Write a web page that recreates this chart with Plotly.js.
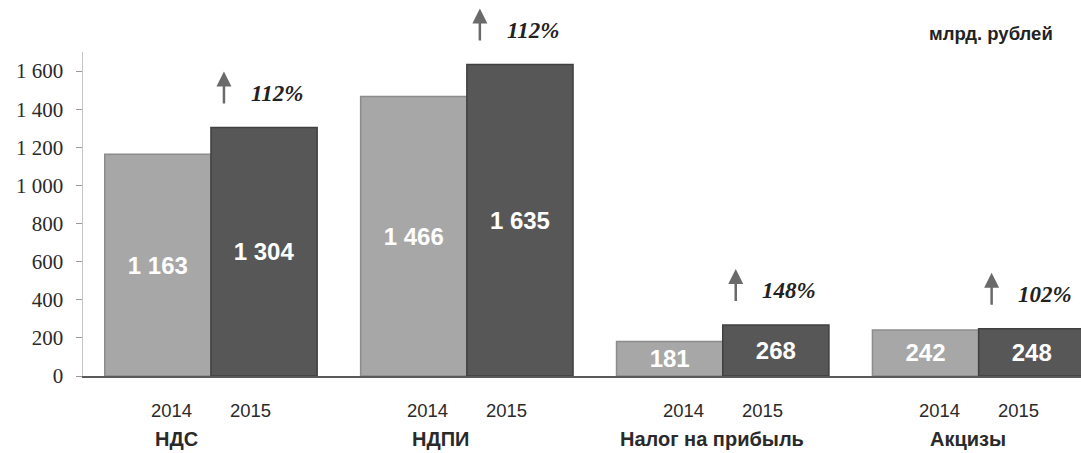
<!DOCTYPE html>
<html>
<head>
<meta charset="utf-8">
<script src="https://cdn.plot.ly/plotly-3.0.1.min.js"></script>
<style>html,body{margin:0;padding:0;background:#fff;}#chart{width:1081px;height:453px;}</style>
</head>
<body>
<div id="chart"></div>
<script>
// ---- data ----
var categories = ['НДС', 'НДПИ', 'Налог на прибыль', 'Акцизы'];
var years = ['2014', '2015'];
var values2014 = [1163, 1466, 181, 242];
var values2015 = [1304, 1635, 268, 248];
var growthLabels = ['112%', '112%', '148%', '102%'];
var yTickValues = [0, 200, 400, 600, 800, 1000, 1200, 1400, 1600];
var unitLabel = 'млрд. рублей';

// ---- styling ----
var sans = '"Liberation Sans", Arial, sans-serif';
var serif = '"Liberation Serif", "Times New Roman", serif';
var catShift = [-34, -26, -11, -11];

var traces = [
  {
    type: 'bar', name: years[0], x: categories, y: values2014,
    marker: {color: '#a7a7a7', line: {color: '#8c8c8c', width: 1.5}},
    texttemplate: '%{y:,d}', textposition: 'inside', insidetextanchor: 'middle',
    textangle: 0, constraintext: 'none',
    insidetextfont: {family: sans, size: 24, color: '#ffffff', weight: 'bold'},
    hoverinfo: 'skip'
  },
  {
    type: 'bar', name: years[1], x: categories, y: values2015,
    marker: {color: '#575757', line: {color: '#404040', width: 1.5}},
    texttemplate: '%{y:,d}', textposition: 'inside', insidetextanchor: 'middle',
    textangle: 0, constraintext: 'none',
    insidetextfont: {family: sans, size: 24, color: '#ffffff', weight: 'bold'},
    hoverinfo: 'skip'
  }
];

var annotations = [];
categories.forEach(function (c, i) {
  annotations.push({x: c, xref: 'x', y: 0, yref: 'paper', xshift: -39, yshift: -34,
    text: years[0], showarrow: false, xanchor: 'center', yanchor: 'middle',
    font: {family: sans, size: 18.5, color: '#2a2a2a'}});
  annotations.push({x: c, xref: 'x', y: 0, yref: 'paper', xshift: 40, yshift: -34,
    text: years[1], showarrow: false, xanchor: 'center', yanchor: 'middle',
    font: {family: sans, size: 18.5, color: '#2a2a2a'}});
  annotations.push({x: c, xref: 'x', y: 0, yref: 'paper', xshift: catShift[i], yshift: -63,
    text: c, showarrow: false, xanchor: 'center', yanchor: 'middle',
    font: {family: sans, size: 20, color: '#2a2a2a', weight: 'bold'}});
  annotations.push({x: c, xref: 'x', y: values2015[i], yref: 'y', xshift: 13, yshift: 56,
    text: ' ', showarrow: true, ax: 0, ay: 42, arrowhead: 2, arrowsize: 1.2,
    arrowwidth: 2.5, arrowcolor: '#6a6a6a'});
  annotations.push({x: c, xref: 'x', y: values2015[i], yref: 'y', xshift: 66, yshift: 34,
    text: '<b><i>' + growthLabels[i] + '</i></b>', showarrow: false,
    xanchor: 'center', yanchor: 'middle',
    font: {family: serif, size: 23, color: '#222222'}});
});
annotations.push({x: 0.91, xref: 'paper', y: 1, yref: 'paper', yshift: 19,
  text: '<b>' + unitLabel + '</b>', showarrow: false, xanchor: 'center', yanchor: 'middle',
  font: {family: sans, size: 18.5, color: '#222222'}});

var layout = {
  width: 1081, height: 453,
  margin: {l: 83, r: 0, t: 52, b: 77, pad: 0},
  paper_bgcolor: '#ffffff', plot_bgcolor: '#ffffff',
  showlegend: false,
  barmode: 'group', bargap: 0.17, bargroupgap: 0,
  separators: ', ',
  xaxis: {
    type: 'category', range: [-0.5, 3.4], showticklabels: false, ticks: '',
    showgrid: false, zeroline: false, showline: true, linecolor: '#5a5a5a', linewidth: 1.5,
    fixedrange: true
  },
  yaxis: {
    range: [0, 1700], tickvals: yTickValues, tickformat: ',d',
    ticks: 'outside', ticklen: 6, tickcolor: '#9a9a9a', tickwidth: 1,
    ticklabelstandoff: 8,
    showgrid: false, zeroline: false, showline: true, linecolor: '#c4c4c4', linewidth: 1.5,
    tickfont: {family: serif, size: 21, color: '#2a2a2a'},
    fixedrange: true
  },
  annotations: annotations
};

Plotly.newPlot('chart', traces, layout, {displayModeBar: false, staticPlot: true});
</script>
</body>
</html>
